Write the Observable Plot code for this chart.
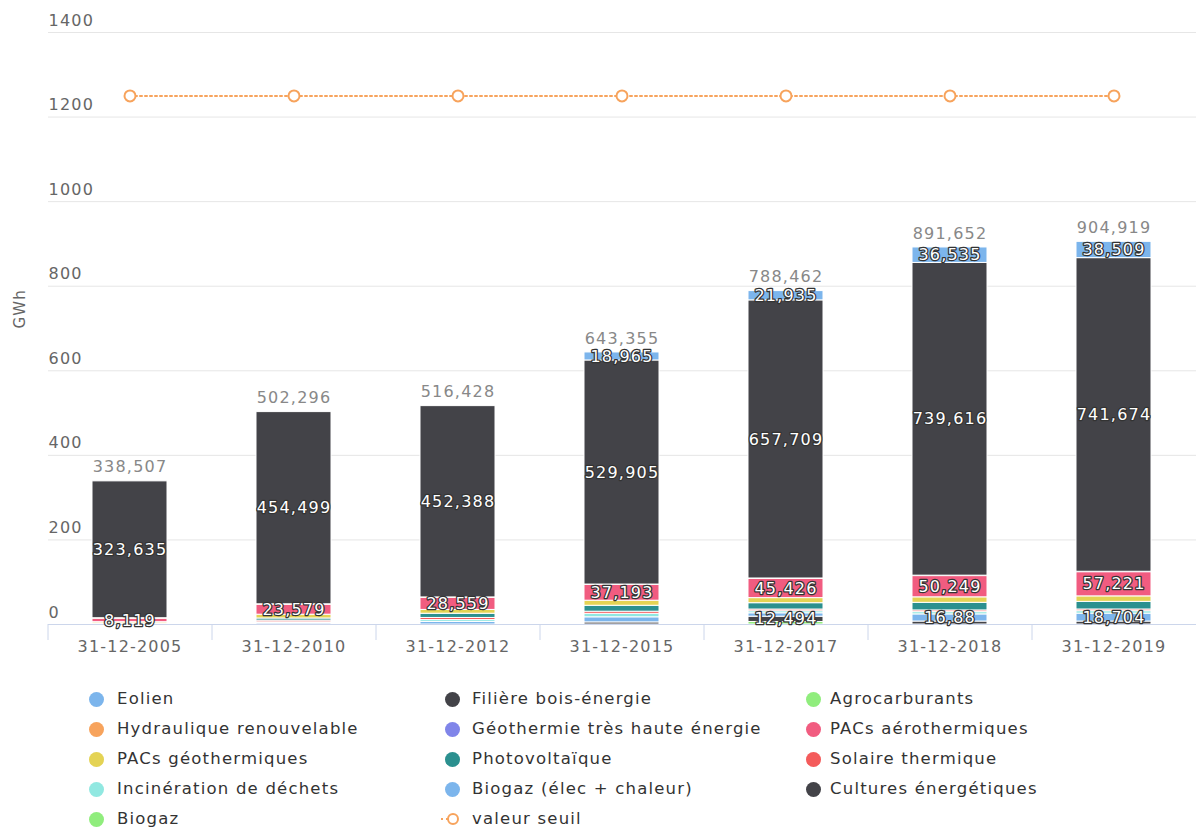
<!DOCTYPE html>
<html>
<head>
<meta charset="utf-8">
<script src="https://cdn.jsdelivr.net/npm/d3@7"></script>
<script src="https://cdn.jsdelivr.net/npm/@observablehq/plot@0.6"></script>
<style>
  html, body { margin: 0; padding: 0; background: #fff; overflow: hidden; }
  #chart { position: relative; width: 1196px; }
  #legend { position: relative; width: 1196px; height: 167px; font-family: "DejaVu Sans", sans-serif; font-size: 16.5px; letter-spacing: 1.2px; color: #333; }
  .item { position: absolute; white-space: nowrap; line-height: 20px; }
  .sw { position: absolute; width: 15px; height: 15px; border-radius: 50%; top: 3px; }
  .lbl { position: absolute; left: 0; top: 0; }
</style>
</head>
<body>
<div id="chart"></div>
<div id="legend"></div>
<script>
const categories = ["31-12-2005","31-12-2010","31-12-2012","31-12-2015","31-12-2017","31-12-2018","31-12-2019"];

// series in legend order
const seriesNames = [
  "Eolien", "Filière bois-énergie", "Agrocarburants",
  "Hydraulique renouvelable", "Géothermie très haute énergie", "PACs aérothermiques",
  "PACs géothermiques", "Photovoltaïque", "Solaire thermique",
  "Incinération de déchets", "Biogaz (élec + chaleur)", "Cultures énergétiques",
  "Biogaz"
];
const seriesColors = [
  "#7cb5ec", "#434348", "#90ed7d",
  "#f7a35c", "#8085e9", "#f15c80",
  "#e4d354", "#2b908f", "#f45b5b",
  "#91e8e1", "#7cb5ec", "#434348",
  "#90ed7d"
];

// values in GWh, one per category
const eolien        = [0, 0, 0, 18.965, 21.935, 36.535, 38.509];
const boisEnergie   = [323.635, 454.499, 452.388, 529.905, 657.709, 739.616, 741.674];
const agrocarburants= [0, 0, 0, 0, 0, 0, 0];
const hydraulique   = [1.253, 1, 1, 1, 1, 1, 1];
const geothermieTHE = [0, 0, 0, 0, 0, 0, 0];
const pacAero       = [8.119, 23.579, 28.559, 37.193, 45.426, 50.249, 57.221];
const pacGeo        = [3, 9, 9, 12, 12, 13, 13];
const photovoltaique= [0, 5, 10, 14, 15, 18, 18];
const solaireTherm  = [2.5, 4, 5, 5, 4, 4, 4];
const incineration  = [0, 2.218, 4.481, 8.292, 4.898, 5.372, 5.811];
const biogazElec    = [0, 3, 6, 12, 8, 16.88, 18.704];
const cultures      = [0, 0, 0, 5, 12.494, 7, 7];
const biogaz        = [0, 0, 0, 0, 6, 0, 0];
const valeurSeuil   = [1250, 1250, 1250, 1250, 1250, 1250, 1250];

const seriesValues = [eolien, boisEnergie, agrocarburants, hydraulique, geothermieTHE, pacAero,
  pacGeo, photovoltaique, solaireTherm, incineration, biogazElec, cultures, biogaz];

const yTicks = [0, 200, 400, 600, 800, 1000, 1200, 1400];

// which segments carry a data label
const labeledSeries = ["Eolien", "Filière bois-énergie", "PACs aérothermiques"];
const labeledExtra = [["31-12-2017", "Cultures énergétiques"], ["31-12-2018", "Biogaz (élec + chaleur)"], ["31-12-2019", "Biogaz (élec + chaleur)"]];

const fmt = v => String(+v.toFixed(3)).replace(".", ",");

// stacking bottom -> top is reverse legend order
const rows = [];
for (let s = seriesNames.length - 1; s >= 0; s--) {
  categories.forEach((c, i) => {
    rows.push({cat: c, series: seriesNames[s], value: seriesValues[s][i]});
  });
}
const isLabeled = d => d.value > 0 && (labeledSeries.includes(d.series) ||
  labeledExtra.some(([c, s]) => c === d.cat && s === d.series));

const totals = categories.map((c, i) => ({cat: c, total: +d3.sum(seriesValues, a => a[i]).toFixed(3)}));
const seuilRows = categories.map((c, i) => ({cat: c, value: valeurSeuil[i]}));

const W = 1196, ML = 48, MR = 0;
const halfStep = (W - ML - MR) / categories.length / 2;

const chart = Plot.plot({
  width: W, height: 665,
  marginLeft: ML, marginRight: MR, marginTop: 32, marginBottom: 41,
  style: {fontFamily: "DejaVu Sans, sans-serif", fontSize: "16px", letterSpacing: "1.2px", background: "white", overflow: "visible"},
  x: {domain: categories, paddingInner: 0.54, paddingOuter: 0.27},
  y: {domain: [0, 1400]},
  color: {domain: seriesNames, range: seriesColors},
  marks: [
    Plot.gridY(yTicks, {stroke: "#e6e6e6", strokeOpacity: 1}),
    Plot.axisY(yTicks, {anchor: "left", tickSize: 0, tickPadding: 0, textAnchor: "start", dy: -12, fill: "#666", label: null, fontSize: 16, tickFormat: d => String(d)}),
    Plot.text(["GWh"], {frameAnchor: "left", rotate: -90, dx: -28, fill: "#666", fontSize: 15}),
    Plot.barY(rows, {x: "cat", y: "value", fill: "series", stroke: "white", strokeWidth: 1}),
    Plot.ruleY([0], {stroke: "#ccd6eb"}),
    Plot.axisX({tickSize: 16, dx: -halfStep, stroke: "#ccd6eb", tickFormat: () => "", label: null}),
    Plot.axisX({tickSize: 0, tickPadding: 16, fill: "#666", label: null, fontSize: 16}),
    Plot.text(rows, Plot.stackY({x: "cat", y: "value", z: "series",
      text: d => isLabeled(d) ? fmt(d.value) : null,
      fill: "white", stroke: "#333", strokeWidth: 2.5, fontSize: 16})),
    Plot.text(totals, {x: "cat", y: "total", text: d => fmt(d.total), dy: -14, fill: "#888", fontSize: 16}),
    Plot.line(seuilRows, {x: "cat", y: "value", stroke: "#f7a35c", strokeWidth: 2, strokeDasharray: "2 3"}),
    Plot.dot(seuilRows, {x: "cat", y: "value", r: 5.5, stroke: "#f7a35c", strokeWidth: 2, fill: "white"})
  ]
});
document.getElementById("chart").appendChild(chart);

// legend (3 columns, row-wise)
const legend = document.getElementById("legend");
const colX = [89, 445, 806];
const textX = [117, 472, 830];
const rowY = [24, 54, 84, 114, 144];
const legendItems = seriesNames.map((n, i) => ({name: n, color: seriesColors[i], type: "dot"}));
legendItems.push({name: "valeur seuil", color: "#f7a35c", type: "line"});
legendItems.forEach((it, i) => {
  const col = i % 3, row = Math.floor(i / 3);
  const el = document.createElement("div");
  el.className = "item";
  el.style.left = "0px";
  el.style.top = (rowY[row]) + "px";
  if (it.type === "dot") {
    const sw = document.createElement("span");
    sw.className = "sw";
    sw.style.background = it.color;
    sw.style.left = colX[col] + "px";
    el.appendChild(sw);
  } else {
    const svg = document.createElementNS("http://www.w3.org/2000/svg", "svg");
    svg.setAttribute("width", 24); svg.setAttribute("height", 20);
    svg.style.position = "absolute"; svg.style.left = (colX[col] - 6) + "px"; svg.style.top = "0px";
    svg.innerHTML = `<line x1="2" x2="22" y1="10" y2="10" stroke="${it.color}" stroke-width="2" stroke-dasharray="2 3"/>` +
      `<circle cx="14" cy="10" r="5" fill="white" stroke="${it.color}" stroke-width="2"/>`;
    el.appendChild(svg);
  }
  const t = document.createElement("span");
  t.className = "lbl";
  t.style.left = textX[col] + "px";
  t.textContent = it.name;
  el.appendChild(t);
  legend.appendChild(el);
});
</script>
</body>
</html>
